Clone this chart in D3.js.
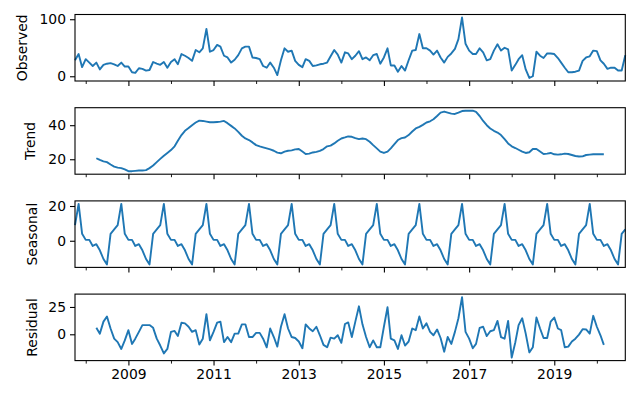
<!DOCTYPE html>
<html>
<head>
<meta charset="utf-8">
<script src="https://cdn.jsdelivr.net/npm/d3@7"></script>
<style>
  body { margin: 0; background: #fff; }
  svg text { font-family: "DejaVu Sans", sans-serif; font-size: 13.9px; fill: #000; }
</style>
</head>
<body>
<div id="chart"></div>
<script>
// monthly, Oct 2007 .. Sep 2020
const startMonth = new Date(2007, 9, 1);
const endMonth = new Date(2020, 8, 1);
const months = d3.timeMonth.range(startMonth, d3.timeMonth.offset(endMonth, 1));

const observed = [28, 39, 16, 30, 24, 18, 24, 12, 20, 22, 23, 21, 18, 24, 17, 17, 7, 6, 14, 13,
    10, 11, 25, 22, 20, 25, 15, 25, 30, 21, 39, 36, 32, 27, 46, 42, 49, 83, 43, 46,
    55, 52, 36, 33, 24, 29, 37, 49, 52, 52, 33, 32, 30, 18, 15, 24, 15, 2, 28, 49,
    43, 45, 27, 20, 16, 30, 27, 18, 19, 21, 22, 24, 35, 46, 38, 24, 42, 40, 30, 36,
    44, 30, 33, 28, 37, 39, 22, 33, 49, 19, 19, 8, 18, 10, 28, 45, 46, 74, 49, 49,
    45, 38, 45, 33, 24, 34, 40, 48, 65, 103, 57, 45, 39, 39, 49, 42, 28, 30, 45, 56,
    45, 50, 47, 10, 20, 30, 37, 12, -3, 0, 43, 36, 32, 40, 40, 39, 32, 24, 15, 7,
    7, 8, 10, 27, 33, 35, 45, 44, 28, 22, 13, 15, 15, 10, 10, 37];

const trend = [null, null, null, null, null, null,
    20.6, 19.6, 18.8, 18.3, 16.9, 15.7, 15.1, 14.8, 14.0, 13.0, 13.0, 13.2, 13.4, 13.4,
    13.6, 14.8, 16.3, 18.3, 20.2, 22.1, 23.7, 25.4, 27.6, 30.9, 34.2, 36.7, 38.3, 40.0,
    41.6, 42.7, 42.5, 42.1, 41.7, 41.7, 41.9, 42.1, 42.5, 41.2, 39.6, 38.1, 36.1, 33.8,
    32.2, 31.3, 29.9, 28.3, 27.6, 27.0, 26.4, 25.8, 25.0, 23.9, 23.5, 24.5, 25.0, 25.2,
    25.8, 26.0, 24.5, 23.1, 23.3, 24.0, 24.3, 24.9, 26.0, 27.6, 28.0, 29.3, 30.9, 32.2,
    32.8, 33.4, 33.2, 32.4, 31.8, 32.2, 31.8, 30.3, 28.3, 26.4, 24.5, 23.7, 24.5, 26.4,
    28.9, 31.3, 32.4, 32.8, 34.2, 36.3, 38.1, 39.0, 40.2, 41.6, 42.3, 43.5, 45.4, 47.4,
    48.0, 47.4, 46.8, 46.6, 47.4, 48.3, 48.5, 48.5, 48.5, 47.8, 45.4, 42.5, 40.0, 38.1,
    36.7, 35.7, 34.2, 31.8, 29.3, 27.6, 26.6, 25.6, 24.5, 23.7, 24.1, 26.0, 26.0, 24.5,
    23.1, 23.3, 23.7, 22.9, 22.7, 22.9, 23.3, 23.1, 22.5, 21.9, 21.6, 21.7, 22.5, 22.7,
    22.9, 22.9, 22.9, 22.9,
    null, null, null, null, null, null];

// one seasonal cycle, Oct .. Sep
const seasonalCycle = [9, 21.2, 4, 0.5, 0.5, -3, -2, -5.5, -10.5, -13.6, 4, 6.5];

const residual = [null, null, null, null, null, null,
    5.9, 0.6, 11.6, 16.3, 5.3, -4, -7.2, -13.4, -5.6, 3.8, -8.8, -4, 2.2, 8.4,
    8.4, 8.4, 5.9, -4, -10.3, -17.5, -13.4, 2.2, 3.1, -1.6, 10.6, 10, 6.9, 2.2,
    3.8, -9.4, -4, 18.4, -5.6, 2.2, 10.6, 11.6, -7.2, -2.5, -7.2, 0.6, 0.6, 9.1,
    9.1, -2.5, -2.5, 1.3, 1.3, -4, -11.9, 5.3, -2.5, -11.3, 6.9, 18.4, 5.3, -2.5,
    -3.4, -6.6, -12.8, 9.1, 5.3, 2.8, 6.9, -0.9, -9.7, -11.9, -3.1, -4, -0.9, -7.8,
    9.4, 10.9, -2.5, 11.6, 25.6, 9.1, -2.5, -11.9, -5.6, -11.9, -11.9, 6.9, 24.7, -4,
    -5.6, -13.4, -0.9, -10.3, -6.6, 5.3, 3.8, 16.3, 5.3, 10, 2.2, -0.9, 4.4, -3.4,
    -15.9, -2.5, -8.8, 2.2, 14.7, 34, 2.2, -4, -12.8, -8.8, 5.9, 6.9, -1.6, 2.8,
    3.8, 12.2, -2.5, -4, 12.2, -21.3, -7.2, 8.4, 14.7, 0.6, -16.6, -11.9, 15.3, 5.3,
    -3.4, -3.4, 11.6, 15.3, 5.3, 3.8, -11.9, -11.3, -6.6, -4, -0.3, 4.7, 4.4, 0.6,
    16.9, 6.9, -0.9, -9.7,
    null, null, null, null, null, null];

const seasonal = months.map((m, i) => seasonalCycle[i % 12]);

const panelNames = ["Observed", "Trend", "Seasonal", "Residual"];
const panelTicks = [[0, 100], [20, 40], [0, 20], [0, 25]];
const majorYears = [2009, 2011, 2013, 2015, 2017, 2019];
const minorYears = [2008, 2010, 2012, 2014, 2016, 2018, 2020];

const width = 636, height = 393;
const left = 75, right = 625.3;
const top0 = 14.5, step = 93.2, panelH = 66.5;

const svg = d3.select("#chart")
    .append("svg")
    .attr("width", width)
    .attr("height", height);

const x = d3.scaleTime()
    .domain([startMonth, endMonth])
    .range([left, right]);

const series = [observed, trend, seasonal, residual];

series.forEach(function (values, k) {
    const top = top0 + k * step;
    const bottom = top + panelH;

    // matplotlib style 5% margins
    const [lo, hi] = d3.extent(values.filter(v => v !== null));
    const pad = (hi - lo) * 0.05;
    const y = d3.scaleLinear()
        .domain([lo - pad, hi + pad])
        .range([bottom, top]);

    const g = svg.append("g");

    const line = d3.line()
        .defined(d => d[1] !== null)
        .x(d => x(d[0]))
        .y(d => y(d[1]));

    g.append("path")
        .datum(months.map((m, i) => [m, values[i]]))
        .attr("fill", "none")
        .attr("stroke", "#1f77b4")
        .attr("stroke-width", 1.9)
        .attr("stroke-linejoin", "round")
        .attr("d", line);

    g.append("rect")
        .attr("x", left)
        .attr("y", top)
        .attr("width", right - left)
        .attr("height", bottom - top)
        .attr("fill", "none")
        .attr("stroke", "#000")
        .attr("stroke-width", 1.1);

    const yAxis = g.append("g")
        .attr("transform", `translate(${left},0)`)
        .call(d3.axisLeft(y).tickValues(panelTicks[k]).tickSize(5).tickPadding(4));
    yAxis.select(".domain").remove();
    yAxis.selectAll("line").attr("stroke-width", 1.1);
    yAxis.selectAll("text").attr("font-size", null).attr("font-family", null);

    const isLast = k === series.length - 1;
    const xMajor = g.append("g")
        .attr("transform", `translate(0,${bottom})`)
        .call(d3.axisBottom(x)
            .tickValues(majorYears.map(yr => new Date(yr, 0, 1)))
            .tickSize(5)
            .tickPadding(4)
            .tickFormat(d => isLast ? d3.timeFormat("%Y")(d) : ""));
    xMajor.select(".domain").remove();
    xMajor.selectAll("line").attr("stroke-width", 1.1);
    xMajor.selectAll("text").attr("font-size", null).attr("font-family", null);

    const xMinor = g.append("g")
        .attr("transform", `translate(0,${bottom})`)
        .call(d3.axisBottom(x)
            .tickValues(minorYears.map(yr => new Date(yr, 0, 1)))
            .tickSize(3)
            .tickFormat(""));
    xMinor.select(".domain").remove();
    xMinor.selectAll("line").attr("stroke-width", 0.9);

    // y label, placed left of the tick labels
    const labelX = [27, 35, 37, 37][k];
    svg.append("text")
        .attr("transform", `translate(${labelX},${(top + bottom) / 2}) rotate(-90)`)
        .attr("text-anchor", "middle")
        .text(panelNames[k]);
});
</script>
</body>
</html>
